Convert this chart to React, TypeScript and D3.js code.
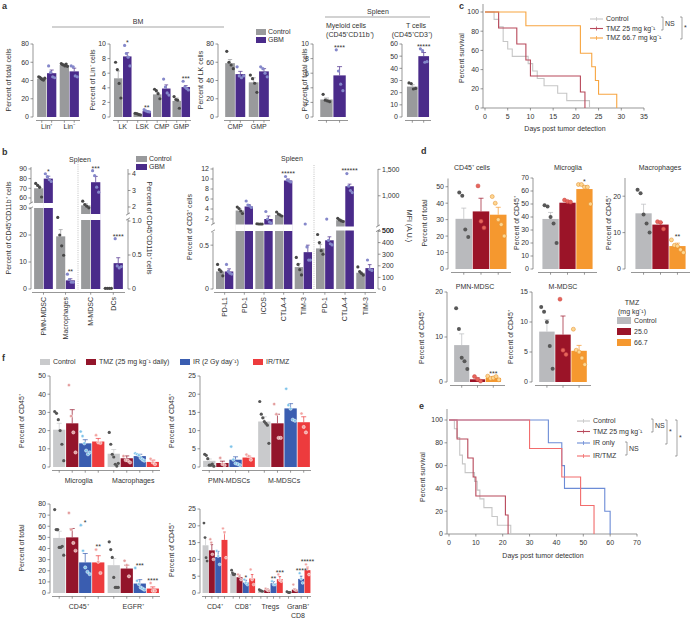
import React from "react";
import * as d3 from "d3";

const FONT = "'Liberation Sans', Arial, Helvetica, sans-serif";
const AX = "#6a6a6a";
const TXT = "#333";

// ---------------- Panel a ----------------
const aLinCats = ["Lin⁺", "Lin⁻"];
const aLinCtrl = [42, 57];
const aLinCtrlSem = [1, 1];
const aLinCtrlDots = [[44, 43.5, 42, 41, 40.5, 42.5], [58.5, 57.5, 57, 56, 58, 55.5]];
const aLinGbm = [48, 50];
const aLinGbmSem = [3.5, 3.5];
const aLinGbmDots = [[56, 49, 44, 43], [56, 55, 45, 44]];
const aLinTicks = [0, 20, 40, 60, 80];

const aProgCats = ["LK", "LSK", "CMP", "GMP"];
const aProgCtrl = [5.3, 0.4, 3.1, 2.2];
const aProgCtrlSem = [1.0, 0.05, 0.3, 0.4];
const aProgCtrlDots = [[7.5, 6.5, 4.6, 2.6], [0.5, 0.45, 0.35, 0.3], [3.8, 3.6, 3.2, 2.5], [2.8, 2.4, 2.3, 1.2]];
const aProgGbm = [8.3, 0.8, 3.9, 4.1];
const aProgGbmSem = [0.5, 0.08, 0.5, 0.2];
const aProgGbmDots = [[9.8, 8.7, 8.2, 7.0], [1.0, 0.85, 0.75, 0.7], [5.2, 4.1, 3.3, 3.0], [4.9, 4.1, 3.9, 3.7]];
const aProgStars = ["*", "**", "", "***"];
const aProgTicks = [0, 2, 4, 6, 8, 10];

const aLkCats = ["CMP", "GMP"];
const aLkCtrl = [59, 38];
const aLkCtrlSem = [4, 5];
const aLkCtrlDots = [[72, 60, 57, 53], [46, 42, 37, 27]];
const aLkGbm = [47, 50];
const aLkGbmSem = [3, 3];
const aLkGbmDots = [[55, 45, 43, 45], [55, 53, 48, 44]];
const aLkTicks = [0, 20, 40, 60, 80];

const aMyeCtrl = [2.4];
const aMyeCtrlSem = [0.2];
const aMyeCtrlDots = [[3.1, 2.3, 2.2, 2.1]];
const aMyeGbm = [5.7];
const aMyeGbmSem = [1.2];
const aMyeGbmDots = [[9.2, 6.3, 4.5, 3.6]];
const aMyeTicks = [0, 2, 4, 6, 8, 10];

const aTCtrl = [25];
const aTCtrlSem = [1.5];
const aTCtrlDots = [[28, 27.5, 23, 23.5]];
const aTGbm = [50];
const aTGbmSem = [3];
const aTGbmDots = [[56, 54.5, 45, 45.5]];
const aTTicks = [0, 10, 20, 30, 40, 50, 60];

// ---------------- Panel b ----------------
const bMyeCatsL = ["PMN-MDSC", "Macrophages"];
const bMyeCtrlL = [70, 19.5];
const bMyeCtrlSemL = [3, 2.5];
const bMyeCtrlDotsL = [[75, 73, 71, 61], [26.5, 20, 16, 12.5]];
const bMyeGbmL = [80, 3.2];
const bMyeGbmSemL = [2.5, 0.6];
const bMyeGbmDotsL = [[85, 82, 79, 77], [5.5, 3.5, 2.5, 2.5]];
const bMyeStarsL = ["*", "**"];
const bMyeCatsR = ["M-MDSC", "DCs"];
const bMyeCtrlR = [2.1, 0.01];
const bMyeCtrlSemR = [0.1, 0.003];
const bMyeCtrlDotsR = [[2.35, 2.15, 2.05, 1.95], [0.01, 0.01, 0.01, 0.01]];
const bMyeGbmR = [3.5, 0.38];
const bMyeGbmSemR = [0.35, 0.08];
const bMyeGbmDotsR = [[4.2, 3.9, 3.2, 2.9], [0.74, 0.34, 0.31, 0.33]];
const bMyeStarsR = ["***", "****"];
const bMyeTicksLowL = [0, 10, 20, 30];
const bMyeTicksHighL = [60, 70, 80, 90];
const bMyeTicksLowR = [0, 0.5, 1.0];
const bMyeTickLabelsLowR = ["0", "0.5", "1.0"];
const bMyeTicksHighR = [2, 3, 4];

const bTCats = ["PD-L1", "PD-1", "ICOS", "CTLA-4", "TIM-3"];
const bTCtrl = [0.2, 3.7, 1.0, 2.8, 0.25];
const bTCtrlSem = [0.02, 0.3, 0.05, 0.2, 0.04];
const bTCtrlDots = [[0.28, 0.22, 0.2, 0.15], [4.4, 4.1, 3.6, 3.1], [1.05, 0.98, 0.95, 1.0], [3.4, 3.0, 2.8, 2.6], [0.36, 0.28, 0.22, 0.16]];
const bTGbm = [0.2, 4.5, 2.0, 9.7, 0.42];
const bTGbmSem = [0.03, 0.4, 0.6, 0.3, 0.08];
const bTGbmDots = [[0.28, 0.2, 0.18, 0.17], [5.6, 4.8, 4.6, 4.3], [3.5, 2.0, 1.4, 1.2], [10.5, 9.8, 9.6, 9.4], [0.66, 0.48, 0.33, 0.33]];
const bTStars = ["", "", "", "*****", ""];
const bTTicksLow = [0, 0.5];
const bTTicksHigh = [2, 4, 6, 8, 10, 12];

const bMfiCats = ["PD-1", "CTLA-4", "TIM-3"];
const bMfiCtrl = [350, 540, 140];
const bMfiCtrlSem = [35, 15, 10];
const bMfiCtrlDots = [[470, 400, 330, 300], [575, 545, 525, 515], [190, 150, 135, 120]];
const bMfiGbm = [420, 1180, 180];
const bMfiGbmSem = [30, 40, 30];
const bMfiGbmDots = [[560, 420, 390, 380], [1420, 1180, 1100, 1060], [250, 170, 160]];
const bMfiStars = ["", "******", ""];
const bMfiTicksLow = [0, 100, 200, 300, 400, 500];
const bMfiTicksHigh = [500, 1000, 1500];
const bMfiLabelsHigh = ["500", "1,000", "1,500"];

// ---------------- Panel c / e (survival) ----------------
const survControlDays = [2, 3, 4, 5, 6, 9.5, 10.5, 11.5, 13, 16, 18, 23];
const survControlPct = [92.3, 84.6, 69.2, 61.5, 53.8, 46.2, 38.5, 30.8, 23.1, 15.4, 7.7, 0];
const survTmz25Days = [3, 7, 9, 10, 21, 22];
const survTmz25Pct = [83.3, 66.7, 50, 33.3, 16.7, 0];
const survTmz67Days = [9, 21, 23.5, 24.3, 25, 29];
const survTmz67Pct = [85.7, 57.1, 42.9, 28.6, 14.3, 0];
const survIrDays = [37, 42, 43, 58, 60];
const survIrPct = [80, 60, 40, 20, 0];
const survIrTmzDays = [30, 42, 49, 54];
const survIrTmzPct = [75, 50, 25, 0];
const cXTicks = [0, 5, 10, 15, 20, 25, 30, 35];
const eXTicks = [0, 10, 20, 30, 40, 50, 60, 70];
const survYTicks = [0, 20, 40, 60, 80, 100];

// ---------------- Panel d ----------------
const dGroups = ["Control", "25.0", "66.7"];
const dCd45 = [30.5, 35, 33];
const dCd45Sem = [6.5, 8, 4.5];
const dCd45Dots = [[46.5, 44.5, 24, 19.5], [50.5, 29, 25], [44, 40, 30, 27, 20]];
const dMicro = [38.5, 51, 61.5];
const dMicroSem = [5, 1, 2.5];
const dMicroDots = [[49, 48, 40, 35, 20], [53, 52, 51.5], [65, 65, 63, 63, 50]];
const dMicroStars = ["", "", "*"];
const dMac = [15.3, 12.2, 6.3];
const dMacSem = [2.5, 0.6, 0.8];
const dMacDots = [[21.8, 20.8, 15, 12.5, 10], [13, 12.8, 11], [8, 6.5, 6.3, 5.3, 4.5]];
const dMacStars = ["", "", "**"];
const dPmn = [8.2, 0.6, 0.9];
const dPmnSem = [2.5, 0.3, 0.3];
const dPmnDots = [[16.4, 11.8, 5.4, 4.6, 2.9], [1.2, 0.6, 0.2], [1.3, 0.8, 0.9, 1.2, 0.5]];
const dPmnStars = ["", "", "***"];
const dMm = [8.4, 7.9, 5.2];
const dMmSem = [2.0, 3.1, 0.9];
const dMmDots = [[12.5, 11.7, 10, 6, 2.2], [13.8, 5.3, 4.6], [8.8, 5.3, 5.0, 4.0, 2.9]];

// ---------------- Panel f ----------------
const fGroups = ["Control", "TMZ (25 mg kg⁻¹ daily)", "IR (2 Gy day⁻¹)", "IR/TMZ"];
const f1Cats = ["Microglia", "Macrophages"];
const f1Vals = [[20.5, 7.3], [24, 4.8], [13, 6], [14, 2.8]];
const f1Sems = [[3.5, 2.3], [7.5, 1.3], [2, 1], [1.7, 1]];
const f1Dots = [
  [[30.5, 29.5, 26, 20, 12.5, 3.5], [19, 12.5, 7, 5.5, 1.5, 0.5, 2]],
  [[45, 28, 19, 8], [6, 3.8, 3.5, 2.5]],
  [[19.5, 17, 13, 9, 7, 8], [7.5, 7, 6.5, 5, 4, 3.5]],
  [[17.5, 13.5, 13.2], [4.5, 2.5, 1.5]],
];
const f2Cats = ["PMN-MDSCs", "M-MDSCs"];
const f2Vals = [[1.7, 12.5], [1.1, 12.0], [2.0, 16.1], [2.6, 12.3]];
const f2Sems = [[0.5, 1.3], [0.5, 2.5], [0.8, 1.3], [0.4, 1.5]];
const f2Dots = [
  [[3.5, 3.2, 2.3, 0.5, 0.5, 0.8, 0.2], [18, 14.5, 13.5, 12.5, 12, 11.5, 6.5]],
  [[2.5, 0.8, 0.5], [17.3, 14.5, 8, 8]],
  [[5.6, 2, 1, 0.8, 0.5], [21.5, 17, 16, 13, 12.7]],
  [[3.4, 3.0, 2.0], [14.7, 11, 9.5]],
];
const f3Cats = ["CD45⁺", "EGFR⁺"];
const f3Vals = [[49.5, 25], [50, 22], [27.5, 8.5], [27.5, 4]];
const f3Sems = [[6, 6], [8, 3], [8, 3.5], [6, 1.5]];
const f3Stars = [["", ""], ["", ""], ["*", "***"], ["**", "****"]];
const f3Dots = [
  [[75, 57, 57, 41, 41, 42, 34], [46, 39, 32, 14, 5, 5, 5]],
  [[72, 57, 45, 38], [29, 25, 15]],
  [[61, 38, 23, 19, 17], [22.5, 11, 8, 5, 4, 3]],
  [[39, 28, 18], [9, 2, 2]],
];
const f4Cats = ["CD4⁺", "CD8⁺", "Tregs", "GranB⁺\nCD8"];
const f4Vals = [[14.2, 5.7, 0.7, 0.2], [12.7, 4.7, 1.0, 1.0], [10.7, 3.1, 2.9, 4.2], [15.8, 4.3, 4.1, 6.8]];
const f4Sems = [[2.3, 0.5, 0.2, 0.1], [1.7, 0.6, 0.3, 0.3], [1.7, 0.7, 0.5, 0.8], [2.5, 1.2, 0.8, 0.9]];
const f4Stars = [["", "", "", ""], ["", "", "", ""], ["", "*", "**", "****"], ["", "", "***", "*****"]];
const f4Dots = [
  [[20.8, 16.5, 10.5, 9.5], [6.8, 6, 5.5, 5.4, 5.6], [1, 0.7, 0.6, 0.5], [0.4, 0.2, 0.1, 0.2]],
  [[16, 15, 11.5, 10], [5.5, 5, 4], [1.3, 0.9, 0.7], [2.5, 1, 0.8]],
  [[12.5, 11, 8.5], [4, 3, 2.5], [3.5, 2.5, 2.5], [5.9, 4.2, 3]],
  [[19.2, 18, 10.5], [7, 4, 2.5], [5.5, 3.8, 3.5], [8.5, 7.2, 5.5]],
];

// ---------------- colours ----------------
const COL = {
  aCtrl: "#999a9c", aGbm: "#4a2b8a", aCtrlDot: "#474747", aGbmDot: "#8588ca",
  dCtrl: "#b9babd", d25: "#9b1428", d67: "#f5982f", dCtrlDot: "#585858", d25Dot: "#e8655c", d67Dot: "#fdd691",
  fCtrl: "#c9cacc", fTmz: "#93152b", fIr: "#3a5db0", fIrTmz: "#ed3b3d",
  fCtrlDot: "#555", fTmzDot: "#e39c9c", fIrDot: "#7fc4ea", fIrTmzDot: "#f2a3a0",
  sCtrl: "#c6c6c6", sTmz25: "#b8485a", sTmz67: "#f7a541", sIr: "#6c8cd6", sIrTmz: "#f26c6c",
};

// ---------------- helpers ----------------
function T(p: any) {
  return (
    <text x={p.x} y={p.y} dy={p.dy ?? "0.35em"} fontSize={p.fs ?? 7} textAnchor={p.anchor ?? "middle"}
      fill={p.fill ?? TXT} fontWeight={p.weight}
      transform={p.rot != null ? `rotate(${p.rot},${p.x},${p.y})` : undefined}>{p.children}</text>
  );
}

function YAxis({ x, y, ticks, labels, top, bottom, side = "left", fs = 7 }: any) {
  const dir = side === "left" ? -1 : 1;
  return (
    <g>
      <line x1={x} x2={x} y1={top} y2={bottom} stroke={AX} strokeWidth={0.7} />
      {ticks.map((t: number, i: number) => (
        <g key={i}>
          <line x1={x} x2={x + dir * 2.5} y1={y(t)} y2={y(t)} stroke={AX} strokeWidth={0.7} />
          <text x={x + dir * 4} y={y(t)} dy="0.35em" fontSize={fs} fill={TXT}
            textAnchor={side === "left" ? "end" : "start"}>{labels ? labels[i] : t}</text>
        </g>
      ))}
    </g>
  );
}

function BreakMark({ x, y1, y2 }: any) {
  return (
    <g stroke={AX} strokeWidth={0.7}>
      <line x1={x - 2} y1={y1 + 1.2} x2={x + 2} y2={y1 - 1.2} />
      <line x1={x - 2} y1={y2 + 1.2} x2={x + 2} y2={y2 - 1.2} />
    </g>
  );
}

function broken(lo: number[], loR: number[], hi: number[], hiR: number[]) {
  const l = d3.scaleLinear().domain(lo).range(loR);
  const h = d3.scaleLinear().domain(hi).range(hiR);
  return (v: number) => (v <= lo[1] ? l(v) : h(Math.max(v, hi[0])));
}

type Ser = { vals: number[]; sems: number[]; dots: number[][]; fill: string; dot: string; dotStroke?: string; stars?: string[] };

function BarGroup(p: any) {
  const { cats, series, x0, x1, y, base } = p;
  const r = p.r ?? 1.6;
  const outer = d3.scaleBand<string>().domain(cats).range([x0, x1]).paddingInner(p.padInner ?? 0.15).paddingOuter(p.padOuter ?? 0.05);
  const inner = d3.scaleBand<string>().domain(series.map((_: any, i: number) => String(i))).range([0, outer.bandwidth()]).paddingInner(p.barGap ?? 0.06);
  const bw = inner.bandwidth();
  const bars: any[] = [], gaps: any[] = [], errs: any[] = [], dots: any[] = [], stars: any[] = [], ticks: any[] = [], labels: any[] = [];
  const axisY = base + (p.axisOffset ?? 3.5);
  cats.forEach((c: string, ci: number) => {
    const cc = (outer(c) as number) + outer.bandwidth() / 2;
    series.forEach((s: Ser, si: number) => {
      const bx = (outer(c) as number) + (inner(String(si)) as number);
      const cx = bx + bw / 2;
      const v = s.vals[ci];
      const top = y(v);
      const k = `${ci}-${si}`;
      bars.push(<rect key={k} x={bx} y={top} width={bw} height={Math.max(0.5, base - top)} fill={s.fill} />);
      if (p.gap && top < p.gap[0]) {
        gaps.push(<rect key={k} x={bx - 0.4} y={p.gap[0]} width={bw + 0.8} height={p.gap[1] - p.gap[0]} fill="#fff" />);
      }
      const et = y(v + s.sems[ci]);
      const cap = Math.min(bw * 0.22, 2.5);
      errs.push(<path key={k} d={`M${cx},${top}V${et}M${cx - cap},${et}H${cx + cap}`} stroke={p.errColor ?? s.fill} strokeWidth={0.7} fill="none" />);
      const ds = s.dots[ci] || [];
      const n = ds.length;
      const sp = n > 1 ? Math.min(p.spread ?? 2.2, (bw - 2 * r) / (n - 1)) : 0;
      let minY = et;
      ds.forEach((dv: number, di: number) => {
        const dy = y(dv);
        minY = Math.min(minY, dy - r);
        dots.push(<circle key={`${k}-${di}`} cx={cx + (di - (n - 1) / 2) * sp} cy={dy} r={r} fill={s.dot} stroke={s.dotStroke ?? "none"} strokeWidth={0.5} />);
      });
      if (s.stars && s.stars[ci]) {
        stars.push(<text key={k} x={cx} y={minY - 1} dy="0.35em" fontSize={7} textAnchor="middle" fill={TXT}>{s.stars[ci]}</text>);
      }
      if (p.tickMode !== "cat") ticks.push(<line key={k} x1={cx} x2={cx} y1={axisY} y2={axisY + 2.2} stroke={AX} strokeWidth={0.7} />);
    });
    if (p.tickMode === "cat") ticks.push(<line key={`t${ci}`} x1={cc} x2={cc} y1={axisY} y2={axisY + 2.2} stroke={AX} strokeWidth={0.7} />);
    if (p.labelY != null && c) {
      if (p.labelRot) {
        labels.push(<T key={`l${ci}`} x={cc} y={p.labelY} rot={-90} anchor="end">{c}</T>);
      } else {
        const lines = c.split("\n");
        lines.forEach((ln, li) => labels.push(<T key={`l${ci}-${li}`} x={cc} y={p.labelY + li * 8.5}>{ln}</T>));
      }
    }
  });
  return (
    <g>
      {bars}{gaps}{errs}{dots}{stars}
      {p.noAxis ? null : <line x1={p.axX0 ?? x0} x2={p.axX1 ?? x1} y1={axisY} y2={axisY} stroke={AX} strokeWidth={0.7} />}
      {p.noAxis ? null : ticks}
      {labels}
    </g>
  );
}

function KM({ xs, ys, curves }: any) {
  const line = d3.line<number[]>().x((d) => xs(d[0])).y((d) => ys(d[1])).curve(d3.curveStepAfter);
  return (
    <g>
      {curves.map((c: any, i: number) => {
        const pts = [[0, 100], ...c.days.map((d: number, j: number) => [d, c.pct[j]])];
        return <path key={i} d={line(pts) as string} fill="none" stroke={c.color} strokeWidth={1.1} />;
      })}
    </g>
  );
}

function LegLine({ x, y, color, label }: any) {
  return (
    <g>
      <line x1={x} x2={x + 13} y1={y} y2={y} stroke={color} strokeWidth={1.1} />
      <line x1={x + 6.5} x2={x + 6.5} y1={y - 2} y2={y + 2} stroke={color} strokeWidth={0.8} />
      <T x={x + 16} y={y} anchor="start">{label}</T>
    </g>
  );
}

function Bracket({ x, y1, y2, label, fs = 7 }: any) {
  return (
    <g>
      <path d={`M${x - 2},${y1}H${x}V${y2}H${x - 2}`} fill="none" stroke={AX} strokeWidth={0.6} />
      <T x={x + 2} y={(y1 + y2) / 2} anchor="start" fs={fs}>{label}</T>
    </g>
  );
}

function Survival({ x0, x1, xMax, yBase, yTop, axisTop, xTicks, curves }: any) {
  const xs = d3.scaleLinear().domain([0, xMax]).range([x0, x1]);
  const ys = d3.scaleLinear().domain([0, 100]).range([yBase, yTop]);
  return (
    <g>
      <YAxis x={x0 - 2} y={ys} ticks={survYTicks} top={axisTop} bottom={yBase} />
      <line x1={x0 - 2} x2={x1} y1={yBase} y2={yBase} stroke={AX} strokeWidth={0.7} />
      {xTicks.map((t: number) => (
        <g key={t}>
          <line x1={xs(t)} x2={xs(t)} y1={yBase} y2={yBase + 2.5} stroke={AX} strokeWidth={0.7} />
          <T x={xs(t)} y={yBase + 9}>{t}</T>
        </g>
      ))}
      <KM xs={xs} ys={ys} curves={curves} />
    </g>
  );
}

function SingleAxisBars(p: any) {
  return (
    <g>
      <YAxis x={p.axX} y={p.y} ticks={p.ticks} top={p.top ?? p.y(p.ticks[p.ticks.length - 1])} bottom={p.base} />
      <BarGroup {...p} />
    </g>
  );
}

export default function App() {
  // ---- panel a scales
  const ya80 = d3.scaleLinear().domain([0, 80]).range([117, 44]);
  const ya10 = d3.scaleLinear().domain([0, 10]).range([117, 44]);
  const ya60 = d3.scaleLinear().domain([0, 60]).range([117, 44]);
  const aSer = (c: number[], cs: number[], cd: number[][], g: number[], gs: number[], gd: number[][], stars?: string[]) => [
    { vals: c, sems: cs, dots: cd, fill: COL.aCtrl, dot: COL.aCtrlDot },
    { vals: g, sems: gs, dots: gd, fill: COL.aGbm, dot: COL.aGbmDot, stars },
  ];

  // ---- panel b scales
  const yBL = broken([0, 30], [289, 208], [55, 92], [202.8, 167]);
  const yBR = broken([0, 1], [289, 221], [1.6, 4.3], [213.6, 169]);
  const yBC = broken([0, 0.65], [289, 232], [1, 12.3], [224, 167.5]);
  const yBM = broken([0, 500], [289, 231], [430, 1600], [226, 164]);

  // ---- panel d
  const dSer = (v: number[], s: number[], dd: number[][], stars?: string[]) =>
    [COL.dCtrl, COL.d25, COL.d67].map((f, i) => ({
      vals: [v[i]], sems: [s[i]], dots: [dd[i]], fill: f,
      dot: [COL.dCtrlDot, COL.d25Dot, COL.d67Dot][i], dotStroke: i === 2 ? "#e08a2a" : i === 1 ? "#c94a44" : undefined,
      stars: stars ? [stars[i]] : undefined,
    }));
  const yd1 = d3.scaleLinear().domain([0, 55]).range([269, 178.5]);
  const yd2 = d3.scaleLinear().domain([0, 70]).range([269, 178]);
  const yd3 = d3.scaleLinear().domain([0, 25]).range([269, 178]);
  const yd4 = d3.scaleLinear().domain([0, 20]).range([382, 292]);
  const yd5 = d3.scaleLinear().domain([0, 15]).range([382, 292]);

  // ---- panel f
  const fFill = [COL.fCtrl, COL.fTmz, COL.fIr, COL.fIrTmz];
  const fDot = [COL.fCtrlDot, COL.fTmzDot, COL.fIrDot, COL.fIrTmzDot];
  const fSer = (v: number[][], s: number[][], dd: number[][][], st?: string[][]) =>
    fFill.map((f, i) => ({ vals: v[i], sems: s[i], dots: dd[i], fill: f, dot: fDot[i], dotStroke: i === 0 ? undefined : "#fff", stars: st ? st[i] : undefined }));
  const yf1 = d3.scaleLinear().domain([0, 50]).range([467, 376]);
  const yf2 = d3.scaleLinear().domain([0, 25]).range([467, 376]);
  const yf3 = d3.scaleLinear().domain([0, 80]).range([593, 504]);
  const yf4 = d3.scaleLinear().domain([0, 25]).range([593, 509]);

  const curvesC = [
    { days: survControlDays, pct: survControlPct, color: COL.sCtrl },
    { days: survTmz25Days, pct: survTmz25Pct, color: COL.sTmz25 },
    { days: survTmz67Days, pct: survTmz67Pct, color: COL.sTmz67 },
  ];
  const curvesE = [
    { days: survControlDays, pct: survControlPct, color: COL.sCtrl },
    { days: survTmz25Days, pct: survTmz25Pct, color: COL.sTmz25 },
    { days: survIrDays, pct: survIrPct, color: COL.sIr },
    { days: survIrTmzDays, pct: survIrTmzPct, color: COL.sIrTmz },
  ];

  return (
    <svg width={690} height={619} style={{ position: "absolute", left: 0, top: 0, background: "#fff" }} fontFamily={FONT}>
      <rect width={690} height={619} fill="#fff" />
      {/* panel letters */}
      <T x={2} y={6} anchor="start" fs={9} weight="bold">a</T>
      <T x={2} y={152} anchor="start" fs={9} weight="bold">b</T>
      <T x={459} y={5.5} anchor="start" fs={9} weight="bold">c</T>
      <T x={421} y={151} anchor="start" fs={9} weight="bold">d</T>
      <T x={419} y={406} anchor="start" fs={9} weight="bold">e</T>
      <T x={2} y={358} anchor="start" fs={9} weight="bold">f</T>

      {/* ===== panel a ===== */}
      <T x={138} y={22}>BM</T>
      <line x1={52} x2={224} y1={27} y2={27} stroke={AX} strokeWidth={0.6} />
      <T x={378} y={12}>Spleen</T>
      <line x1={325} x2={430} y1={17} y2={17} stroke={AX} strokeWidth={0.6} />
      <T x={346} y={26}>Myeloid cells</T>
      <T x={350} y={35}>(CD45⁺CD11b⁺)</T>
      <T x={416} y={26}>T cells</T>
      <T x={412} y={35}>(CD45⁺CD3⁺)</T>
      <rect x={256} y={29} width={10} height={6} fill={COL.aCtrl} />
      <T x={268} y={32} anchor="start">Control</T>
      <rect x={256} y={37} width={10} height={6} fill={COL.aGbm} />
      <T x={268} y={40} anchor="start">GBM</T>

      <SingleAxisBars axX={33} y={ya80} ticks={aLinTicks} base={117} cats={aLinCats} x0={36} x1={80} labelY={127}
        series={aSer(aLinCtrl, aLinCtrlSem, aLinCtrlDots, aLinGbm, aLinGbmSem, aLinGbmDots)} />
      <T x={9} y={80} rot={-90}>Percent of total cells</T>
      <SingleAxisBars axX={110} y={ya10} ticks={aProgTicks} base={117} cats={aProgCats} x0={113} x1={191} labelY={127} padInner={0.1}
        series={aSer(aProgCtrl, aProgCtrlSem, aProgCtrlDots, aProgGbm, aProgGbmSem, aProgGbmDots, aProgStars)} />
      <T x={93} y={80} rot={-90}>Percent of Lin⁻ cells</T>
      <SingleAxisBars axX={218} y={ya80} ticks={aLkTicks} base={117} cats={aLkCats} x0={224} x1={270} labelY={127}
        series={aSer(aLkCtrl, aLkCtrlSem, aLkCtrlDots, aLkGbm, aLkGbmSem, aLkGbmDots)} />
      <T x={201} y={80} rot={-90}>Percent of LK cells</T>
      <SingleAxisBars axX={313} y={ya10} ticks={aMyeTicks} base={117} cats={[""]} x0={318} x1={348}
        series={aSer(aMyeCtrl, aMyeCtrlSem, aMyeCtrlDots, aMyeGbm, aMyeGbmSem, aMyeGbmDots, ["****"])} />
      <T x={305} y={80} rot={-90}>Percent of total cells</T>
      <SingleAxisBars axX={402} y={ya60} ticks={aTTicks} base={117} cats={[""]} x0={405} x1={431}
        series={aSer(aTCtrl, aTCtrlSem, aTCtrlDots, aTGbm, aTGbmSem, aTGbmDots, ["*****"])} />

      {/* ===== panel c ===== */}
      <Survival x0={485} x1={644} xMax={35} yBase={108} yTop={12} axisTop={4} xTicks={cXTicks} curves={curvesC} />
      <T x={462} y={58} rot={-90}>Percent survival</T>
      <T x={565} y={129}>Days post tumor detection</T>
      <LegLine x={590} y={19} color={COL.sCtrl} label="Control" />
      <LegLine x={590} y={28.5} color={COL.sTmz25} label="TMZ 25 mg kg⁻¹" />
      <LegLine x={590} y={38} color={COL.sTmz67} label="TMZ 66.7 mg kg⁻¹" />
      <Bracket x={663} y1={17} y2={30} label="NS" />
      <Bracket x={682} y1={17} y2={39} label="*" />

      {/* ===== panel b (left) ===== */}
      <T x={80} y={160}>Spleen</T>
      <rect x={136} y={156} width={11} height={6} fill={COL.aCtrl} />
      <T x={149} y={159} anchor="start">Control</T>
      <rect x={136} y={164} width={11} height={6} fill={COL.aGbm} />
      <T x={149} y={167} anchor="start">GBM</T>
      <YAxis x={31} y={yBL} ticks={bMyeTicksLowL} top={208} bottom={289} />
      <YAxis x={31} y={yBL} ticks={bMyeTicksHighL} top={167} bottom={203} />
      <BreakMark x={31} y1={203} y2={208} />
      <YAxis x={128} y={yBR} ticks={bMyeTicksLowR} labels={bMyeTickLabelsLowR} top={219} bottom={289} side="right" />
      <YAxis x={128} y={yBR} ticks={bMyeTicksHighR} top={169} bottom={214} side="right" />
      <BreakMark x={128} y1={214} y2={219} />
      <BarGroup cats={bMyeCatsL} x0={33} x1={76} y={yBL} base={289} gap={[203, 208]} tickMode="cat" labelY={297} labelRot
        axX0={32} axX1={125}
        series={aSer(bMyeCtrlL, bMyeCtrlSemL, bMyeCtrlDotsL, bMyeGbmL, bMyeGbmSemL, bMyeGbmDotsL, bMyeStarsL)} />
      <BarGroup cats={bMyeCatsR} x0={80} x1={124} y={yBR} base={289} gap={[214, 220]} tickMode="cat" labelY={297} labelRot noAxis
        series={aSer(bMyeCtrlR, bMyeCtrlSemR, bMyeCtrlDotsR, bMyeGbmR, bMyeGbmSemR, bMyeGbmDotsR, bMyeStarsR)} />
      <BarGroup cats={bMyeCatsR} x0={80} x1={124} y={yBR} base={289} tickMode="cat" axX0={80} axX1={80}
        series={[]} />
      <line x1={78} x2={78} y1={162} y2={290} stroke="#999" strokeWidth={0.6} strokeDasharray="1,1.2" />
      <T x={9} y={228} rot={-90}>Percent of CD45⁺CD11b⁺ cells</T>
      <T x={149} y={228} rot={90}>Percent of CD45⁺CD11b⁺ cells</T>

      {/* ===== panel b (right) ===== */}
      <T x={292} y={159}>Spleen</T>
      <YAxis x={213} y={yBC} ticks={bTTicksLow} top={232} bottom={289} />
      <YAxis x={213} y={yBC} ticks={bTTicksHigh} top={167.5} bottom={224} />
      <BreakMark x={213} y1={224} y2={231} />
      <YAxis x={378} y={yBM} ticks={bMfiTicksLow} top={230.5} bottom={289} side="right" />
      <YAxis x={378} y={yBM} ticks={bMfiTicksHigh} labels={bMfiLabelsHigh} top={169} bottom={226} side="right" />
      <BreakMark x={378} y1={226} y2={230.5} />
      <BarGroup cats={bTCats} x0={215} x1={313} y={yBC} base={289} gap={[224.5, 231]} tickMode="cat" labelY={297} labelRot padInner={0.12}
        axX0={214} axX1={376}
        series={aSer(bTCtrl, bTCtrlSem, bTCtrlDots, bTGbm, bTGbmSem, bTGbmDots, bTStars)} />
      <BarGroup cats={bMfiCats} x0={315} x1={375} y={yBM} base={289} gap={[226.5, 230.5]} tickMode="cat" labelY={297} labelRot padInner={0.12}
        axX0={315} axX1={315}
        series={aSer(bMfiCtrl, bMfiCtrlSem, bMfiCtrlDots, bMfiGbm, bMfiGbmSem, bMfiGbmDots, bMfiStars)} />
      <line x1={314} x2={314} y1={165} y2={290} stroke="#999" strokeWidth={0.6} strokeDasharray="1,1.2" />
      <T x={190} y={227} rot={-90}>Percent of CD3⁺ cells</T>
      <T x={409} y={226} rot={90}>MFI (A.U.)</T>

      {/* ===== panel d ===== */}
      <T x={472} y={168}>CD45⁺ cells</T>
      <SingleAxisBars axX={448} y={yd1} ticks={[0, 10, 20, 30, 40, 50]} top={178.5} base={269} cats={[""]} x0={451} x1={511} r={2}
        padOuter={0.02} barGap={0.04} spread={3} series={dSer(dCd45, dCd45Sem, dCd45Dots)} />
      <T x={425} y={223} rot={-90}>Percent of total</T>
      <T x={568} y={168}>Microglia</T>
      <SingleAxisBars axX={533} y={yd2} ticks={[0, 10, 20, 30, 40, 50, 60, 70]} base={269} cats={[""]} x0={538} x1={597} r={2}
        padOuter={0.02} barGap={0.04} spread={3} series={dSer(dMicro, dMicroSem, dMicroDots, dMicroStars)} />
      <T x={517} y={223} rot={-90}>Percent of CD45⁺</T>
      <T x={660} y={168}>Macrophages</T>
      <SingleAxisBars axX={625} y={yd3} ticks={[0, 10, 20]} top={178} base={269} cats={[""]} x0={631} x1={690} r={2}
        padOuter={0.02} barGap={0.04} spread={3} series={dSer(dMac, dMacSem, dMacDots, dMacStars)} />
      <T x={609} y={223} rot={-90}>Percent of CD45⁺</T>

      <T x={475} y={287}>PMN-MDSC</T>
      <SingleAxisBars axX={447} y={yd4} ticks={[0, 10, 20]} base={382} cats={[""]} x0={450} x1={505} r={2}
        padOuter={0.02} barGap={0.04} spread={3} series={dSer(dPmn, dPmnSem, dPmnDots, dPmnStars)} />
      <T x={422} y={337} rot={-90}>Percent of CD45⁺</T>
      <T x={563} y={287}>M-MDSC</T>
      <SingleAxisBars axX={532} y={yd5} ticks={[0, 5, 10, 15]} base={382} cats={[""]} x0={535} x1={591} r={2}
        padOuter={0.02} barGap={0.04} spread={3} series={dSer(dMm, dMmSem, dMmDots)} />
      <T x={511} y={337} rot={-90}>Percent of CD45⁺</T>
      <T x={632} y={303}>TMZ</T>
      <T x={632} y={312}>(mg kg⁻¹)</T>
      {dGroups.map((g, i) => (
        <g key={g}>
          <rect x={617} y={317 + i * 11} width={14} height={7} fill={[COL.dCtrl, COL.d25, COL.d67][i]} />
          <T x={634} y={320.5 + i * 11} anchor="start">{g}</T>
        </g>
      ))}

      {/* ===== panel e ===== */}
      <Survival x0={449} x1={637} xMax={70} yBase={534} yTop={420} axisTop={409} xTicks={eXTicks} curves={curvesE} />
      <T x={423} y={477} rot={-90}>Percent survival</T>
      <T x={543} y={556}>Days post tumor detection</T>
      <LegLine x={577} y={421} color={COL.sCtrl} label="Control" />
      <LegLine x={577} y={431.5} color={COL.sTmz25} label="TMZ 25 mg kg⁻¹" />
      <LegLine x={577} y={443} color={COL.sIr} label="IR only" />
      <LegLine x={577} y={456} color={COL.sIrTmz} label="IR/TMZ" />
      <Bracket x={653} y1={419} y2={432} label="NS" />
      <Bracket x={627} y1={442} y2={455} label="NS" />
      <Bracket x={667} y1={420} y2={444} label="*" />
      <Bracket x={677} y1={420} y2={456} label="*" />

      {/* ===== panel f ===== */}
      {fGroups.map((g, i) => {
        const xs = [40, 86, 180, 253];
        return (
          <g key={g}>
            <rect x={xs[i]} y={359} width={10} height={6} fill={fFill[i]} />
            <T x={xs[i] + 13} y={362} anchor="start">{g}</T>
          </g>
        );
      })}
      <SingleAxisBars axX={50} y={yf1} ticks={[0, 10, 20, 30, 40, 50]} base={467} cats={f1Cats} x0={52} x1={160} padInner={0.06} padOuter={0.02}
        labelY={481} series={fSer(f1Vals, f1Sems, f1Dots)} />
      <T x={22} y={421} rot={-90}>Percent of CD45⁺</T>
      <SingleAxisBars axX={200} y={yf2} ticks={[0, 5, 10, 15, 20, 25]} base={467} cats={f2Cats} x0={202} x1={311} padInner={0.06} padOuter={0.02}
        labelY={481} series={fSer(f2Vals, f2Sems, f2Dots)} />
      <T x={172} y={421} rot={-90}>Percent of CD45⁺</T>
      <SingleAxisBars axX={50} y={yf3} ticks={[0, 10, 20, 30, 40, 50, 60, 70, 80]} base={593} cats={f3Cats} x0={52} x1={160} padInner={0.06} padOuter={0.02}
        labelY={607} series={fSer(f3Vals, f3Sems, f3Dots, f3Stars)} />
      <T x={22} y={548} rot={-90}>Percent of total</T>
      <SingleAxisBars axX={200} y={yf4} ticks={[0, 5, 10, 15, 20, 25]} base={593} cats={f4Cats} x0={202} x1={311} padInner={0.1} padOuter={0.02}
        labelY={607} r={1.4} spread={1.5} series={fSer(f4Vals, f4Sems, f4Dots, f4Stars)} />
      <T x={172} y={550} rot={-90}>Percent of CD45⁺</T>
    </svg>
  );
}
